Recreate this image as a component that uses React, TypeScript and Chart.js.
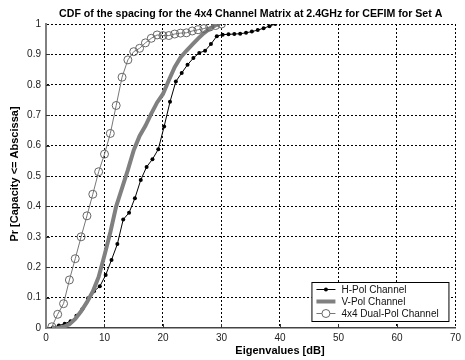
import { useEffect, useRef } from "react";
import { Chart, registerables } from "chart.js";

Chart.register(...registerables);

const titleText = "CDF of the spacing for the 4x4 Channel Matrix at 2.4GHz for CEFIM for Set A";
const xAxisLabel = "Eigenvalues [dB]";
const yAxisLabel = "Pr [Capacity <= Abscissa]";
const seriesNames = ["H-Pol Channel", "V-Pol Channel", "4x4 Dual-Pol Channel"];

const xMin = 0;
const xMax = 70;
const xStep = 10;
const yMin = 0;
const yMax = 1;
const yStep = 0.1;

const hPolX = [1.2, 2.2, 3.2, 4.2, 5.2, 6.2, 7.2, 8.2, 9.2, 10.2, 11.2, 12.2, 13.2, 14.2, 15.2, 16.2, 17.2, 18.2, 19.2, 20.2, 21.2, 22.2, 23.2, 24.2, 25.2, 26.2, 27.2, 28.2, 29.2, 30.2, 31.2, 32.2, 33.2, 34.2, 35.2, 36.2, 37.2, 38.2, 39.2];
const hPolY = [0.002, 0.008, 0.014, 0.022, 0.04, 0.062, 0.098, 0.121, 0.137, 0.174, 0.224, 0.276, 0.357, 0.379, 0.427, 0.487, 0.53, 0.555, 0.588, 0.663, 0.744, 0.811, 0.839, 0.866, 0.888, 0.905, 0.912, 0.934, 0.96, 0.965, 0.966, 0.967, 0.968, 0.971, 0.975, 0.98, 0.986, 0.993, 1.0];

const vPolX = [1, 2, 3, 4, 5, 6, 7, 8, 9, 10, 11, 12, 13, 14, 15, 16, 17, 18, 19, 20, 21, 22, 23, 24, 25, 26, 27, 28, 29, 29.6];
const vPolY = [0, 0, 0.004, 0.012, 0.03, 0.055, 0.085, 0.12, 0.168, 0.239, 0.315, 0.4, 0.46, 0.52, 0.585, 0.632, 0.665, 0.705, 0.742, 0.77, 0.815, 0.858, 0.89, 0.912, 0.932, 0.952, 0.97, 0.985, 0.996, 1.0];

const dualX = [1, 2, 3, 4, 5, 6, 7, 8, 9, 10, 11, 12, 13, 14, 15, 16, 17, 18, 19, 20, 21, 22, 23, 24, 25, 26, 27, 28, 29, 30];
const dualY = [0.004, 0.045, 0.08, 0.158, 0.228, 0.3, 0.369, 0.44, 0.514, 0.572, 0.64, 0.732, 0.825, 0.882, 0.909, 0.92, 0.938, 0.953, 0.964, 0.962, 0.962, 0.967, 0.97, 0.971, 0.977, 0.981, 0.985, 0.99, 0.995, 1.0];

const toPoints = (xs: number[], ys: number[]) => xs.map((x, i) => ({ x, y: ys[i] }));

const fontFamily = "'Liberation Sans', Arial, sans-serif";

const decorPlugin = {
  id: "decor",
  afterDraw(chart: any) {
    const { ctx, chartArea } = chart;
    const xs = chart.scales.x;
    const ys = chart.scales.y;
    ctx.save();
    // inward ticks
    ctx.strokeStyle = "#333";
    ctx.lineWidth = 1;
    for (let v = xMin + xStep; v < xMax; v += xStep) {
      const px = Math.round(xs.getPixelForValue(v)) + 0.5;
      ctx.beginPath();
      ctx.moveTo(px, chartArea.bottom);
      ctx.lineTo(px, chartArea.bottom - 4);
      ctx.stroke();
    }
    for (let k = 1; k < 10; k++) {
      const py = Math.round(ys.getPixelForValue(k * yStep)) + 0.5;
      ctx.beginPath();
      ctx.moveTo(chartArea.left, py);
      ctx.lineTo(chartArea.left + 4, py);
      ctx.stroke();
    }
    // title
    ctx.fillStyle = "#000";
    ctx.font = `bold 10.6px ${fontFamily}`;
    ctx.textAlign = "center";
    ctx.textBaseline = "middle";
    ctx.fillText(titleText, (chartArea.left + chartArea.right) / 2, 14);
    // x label
    ctx.font = `bold 11px ${fontFamily}`;
    ctx.fillText(xAxisLabel, xs.getPixelForValue(40), 351);
    // y label
    ctx.save();
    ctx.translate(15, 174);
    ctx.rotate(-Math.PI / 2);
    ctx.fillText(yAxisLabel, 0, 0);
    ctx.restore();

    // legend
    const right = chartArea.right - 6;
    const bottom = chartArea.bottom - 6;
    const left = right - 138;
    const top = bottom - 40;
    ctx.fillStyle = "#fff";
    ctx.fillRect(left, top, right - left, bottom - top);
    ctx.strokeStyle = "#000";
    ctx.lineWidth = 1;
    ctx.strokeRect(left + 0.5, top + 0.5, right - left - 1, bottom - top - 1);
    ctx.font = `10px ${fontFamily}`;
    ctx.textAlign = "left";
    chart.data.datasets.forEach((ds: any, i: number) => {
      const cy = top + 7.5 + i * 12;
      const x1 = left + 5;
      const x2 = left + 24;
      ctx.strokeStyle = ds.borderColor;
      ctx.lineWidth = ds.borderWidth;
      ctx.beginPath();
      ctx.moveTo(x1, cy);
      ctx.lineTo(x2, cy);
      ctx.stroke();
      if (ds.pointRadius > 0) {
        ctx.beginPath();
        ctx.arc((x1 + x2) / 2, cy, ds.pointRadius, 0, Math.PI * 2);
        if (ds.pointBackgroundColor && ds.pointBackgroundColor !== "transparent") {
          ctx.fillStyle = ds.pointBackgroundColor;
          ctx.fill();
        } else {
          ctx.fillStyle = "#fff";
          ctx.fill();
        }
        if (ds.pointBorderWidth > 0) {
          ctx.strokeStyle = ds.pointBorderColor;
          ctx.lineWidth = ds.pointBorderWidth;
          ctx.stroke();
        }
      }
      ctx.fillStyle = "#111";
      ctx.textBaseline = "middle";
      ctx.fillText(ds.label, left + 30, cy + 0.5);
    });
    ctx.restore();
  },
};

export default function App() {
  const canvasRef = useRef<HTMLCanvasElement | null>(null);

  useEffect(() => {
    document.body.style.margin = "0";
    const canvas = canvasRef.current;
    if (!canvas) return;
    const gridColor = (c: any) => (c.tick && c.tick.value === 0 ? "rgba(0,0,0,0)" : "#000");
    const chart = new Chart(canvas, {
      type: "line",
      data: {
        datasets: [
          {
            label: seriesNames[0],
            data: toPoints(hPolX, hPolY),
            borderColor: "#000",
            borderWidth: 1,
            pointRadius: 2,
            pointBackgroundColor: "#000",
            pointBorderColor: "#000",
            pointBorderWidth: 0,
            tension: 0,
            order: 3,
          },
          {
            label: seriesNames[1],
            data: toPoints(vPolX, vPolY),
            borderColor: "#808080",
            borderWidth: 4,
            pointRadius: 0,
            pointBorderWidth: 0,
            tension: 0,
            order: 2,
          },
          {
            label: seriesNames[2],
            data: toPoints(dualX, dualY),
            borderColor: "#777",
            borderWidth: 1,
            pointRadius: 4,
            pointBackgroundColor: "transparent",
            pointBorderColor: "#666",
            pointBorderWidth: 1,
            tension: 0,
            order: 1,
          },
        ],
      },
      options: {
        animation: false,
        responsive: true,
        maintainAspectRatio: false,
        layout: { autoPadding: false, padding: { top: 24, right: 4, left: 0, bottom: 0 } } as any,
        plugins: { legend: { display: false }, title: { display: false }, tooltip: { enabled: false } },
        scales: {
          x: {
            type: "linear",
            min: xMin,
            max: xMax,
            afterFit: (s: any) => {
              s.height = 32;
            },
            ticks: {
              stepSize: xStep,
              padding: 4,
              color: "#222",
              font: { family: fontFamily, size: 10 },
              maxRotation: 0,
              autoSkip: false,
            },
            grid: { color: gridColor, lineWidth: 1, drawTicks: false },
            border: { display: true, color: "#444", width: 1.5, dash: [2, 2] },
          },
          y: {
            type: "linear",
            min: yMin,
            max: yMax,
            afterFit: (s: any) => {
              s.width = 46;
            },
            ticks: {
              stepSize: yStep,
              padding: 5,
              color: "#222",
              font: { family: fontFamily, size: 10 },
              callback: (v: any) => String(Number(Number(v).toFixed(1))),
            },
            grid: { color: gridColor, lineWidth: 1, drawTicks: false },
            border: { display: true, color: "#808080", width: 2, dash: [2, 2] },
          },
        },
      },
      plugins: [decorPlugin],
    });
    return () => chart.destroy();
  }, []);

  return (
    <div style={{ width: 465, height: 360, position: "relative", background: "#fff" }}>
      <canvas ref={canvasRef} />
    </div>
  );
}
